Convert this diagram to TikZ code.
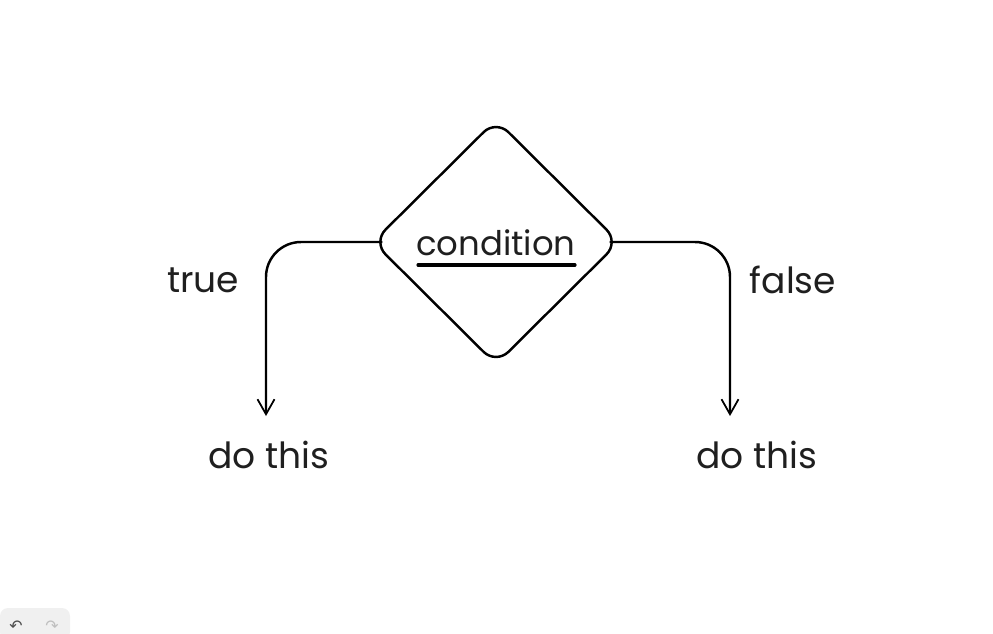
\documentclass[tikz,border=0pt]{standalone}
\usepackage{fontspec}
\setmainfont{Poppins}
\newfontfamily\symfont{DejaVu Sans}
\usetikzlibrary{shapes.geometric,arrows.meta}

\begin{document}
\begin{tikzpicture}[
    x=0.02cm, y=-0.02cm,
    decision/.style={diamond, draw, line width=1.4pt, rounded corners=0.35cm, inner sep=0pt,
        outer sep=-0.13cm, minimum width=4.81cm, minimum height=4.78cm},
    label/.style={font=\fontsize{20.5}{24}\selectfont, text=black!88, inner sep=0pt},
    flow/.style={line width=1.4pt, rounded corners=0.7cm, -{Straight Barb[length=0.3cm, width=0.34cm, line width=1pt]}},
    toolbar/.style={fill=black!6, draw=none, rounded corners=0.16cm}
]

% page size
\useasboundingbox (0,0) rectangle (993,633);

% decision node
\node[decision] (cond) at (496,242) {};
\node[label, font=\fontsize{19.3}{23}\selectfont] (condtext) at (496,243) {condition};
\draw[line width=1.8pt, line cap=round] (418,265) -- (575,265);

% branch targets
\node[label] (doL) at (269,455) {do this};
\node[label] (doR) at (757,455) {do this};
\coordinate (endL) at (266,416);
\coordinate (endR) at (730,416);

% branch labels
\node[label] (yes) at (203,280) {true};
\node[label] (no) at (793,280) {false};

% connectors
\draw[flow] (cond.west) -- (cond.west -| endL) -- (endL);
\draw[flow] (cond.east) -- (cond.east -| endR) -- (endR);

% undo / redo box
\path[toolbar] (0,608) rectangle (70,640);
\node[font=\symfont\fontsize{9}{9}\selectfont, text=black!70] (undo) at (16,626) {↶};
\node[font=\symfont\fontsize{9}{9}\selectfont, text=black!25] (redo) at (52,626) {↷};

\end{tikzpicture}
\end{document}
